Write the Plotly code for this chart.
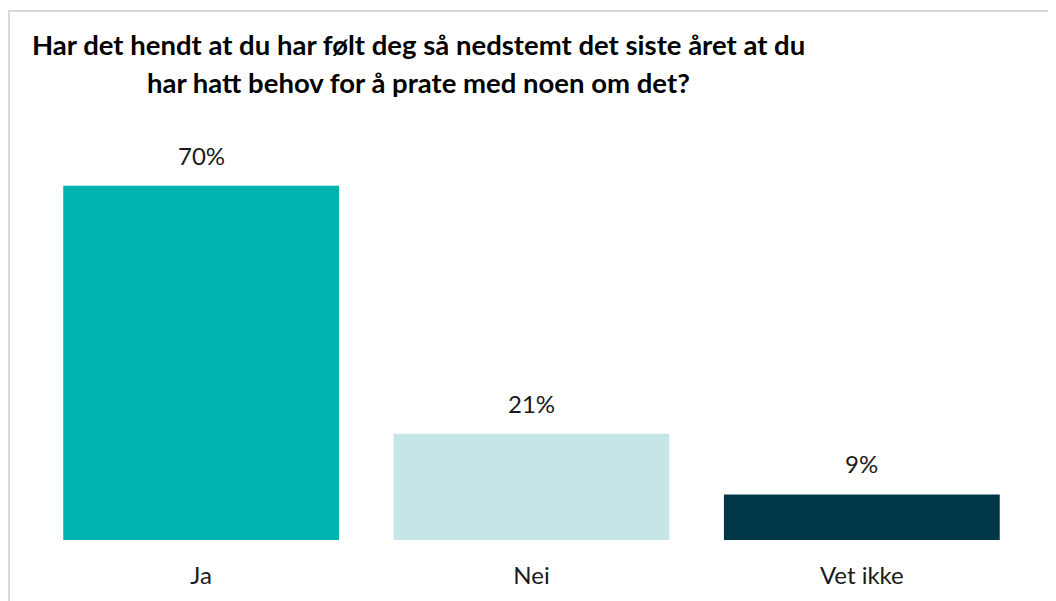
import plotly.graph_objects as go

categories = ["Ja", "Nei", "Vet ikke"]
values = [70, 21, 9]
labels = ["70%", "21%", "9%"]
colors = ["#00B3B1", "#C5E5E6", "#003847"]
title_lines = [
    "Har det hendt at du har følt deg så nedstemt det siste året at du",
    "har hatt behov for å prate med noen om det?",
]

# page body has an 8px margin; work in reference pixel coords and offset
OFF = 8
W, H = 1056 - OFF, 601 - OFF
L, R, T, B = 36 - OFF, 1056 - 1027, 135 - OFF, 601 - 540
pw, ph = W - L - R, H - T - B

def px_x(px):
    return (px - OFF - L) / pw

def px_y(py):
    return (H - B - (py - OFF)) / ph

fig = go.Figure(
    go.Bar(
        x=categories,
        y=values,
        marker=dict(color=colors, line=dict(width=0)),
        width=0.835,
        hoverinfo="skip",
    )
)

for c, v, t in zip(categories, values, labels):
    fig.add_annotation(
        x=c, y=v, text=t, showarrow=False, yanchor="bottom", yshift=14,
        font=dict(family="Lato", size=24, color="#1a1a1a"),
    )

for line, py in zip(title_lines, [45, 82]):
    fig.add_annotation(
        xref="paper", yref="paper", x=px_x(418), y=px_y(py),
        xanchor="center", yanchor="middle", text="<b>" + line + "</b>",
        showarrow=False, font=dict(family="Lato", size=27.5, color="#000000"),
    )

fig.add_shape(
    type="rect", xref="paper", yref="paper",
    x0=px_x(9), x1=px_x(1070), y0=px_y(615), y1=px_y(11),
    line=dict(color="#D9D9D9", width=2), fillcolor="rgba(0,0,0,0)", layer="below",
)

fig.update_layout(
    width=W, height=H,
    margin=dict(l=L, r=R, t=T, b=B, pad=0),
    paper_bgcolor="white", plot_bgcolor="white",
    showlegend=False,
    xaxis=dict(showgrid=False, showline=False, zeroline=False, ticks="",
               tickfont=dict(family="Lato", size=24, color="#1a1a1a"),
               ticklabelstandoff=19),
    yaxis=dict(range=[0, 80], visible=False, fixedrange=True),
)

fig.write_html("out.html")
